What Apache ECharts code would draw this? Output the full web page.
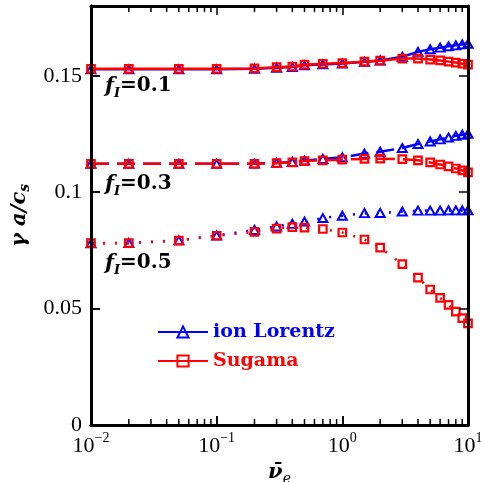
<!DOCTYPE html>
<html>
<head>
<meta charset="utf-8">
<script src="https://cdn.jsdelivr.net/npm/echarts@6/dist/echarts.min.js"></script>
<style>
html,body{margin:0;padding:0;background:#fff;}
#con{position:absolute;left:0;top:0;width:481px;height:482px;}
#frame{position:absolute;left:0;top:0;width:481px;height:482px;pointer-events:none;}
</style>
</head>
<body>
<div id="con"></div>
<div id="frame"></div>
<script>
// collision frequency (x axis)
var nu = [0.01, 0.02, 0.05, 0.1, 0.2, 0.3, 0.4, 0.5, 0.7, 1, 1.5, 2, 3, 4, 5, 6, 7, 8, 9, 10];

// growth rate, ion Lorentz model
var lorentz01 = [0.1528, 0.1528, 0.1528, 0.1528, 0.1530, 0.1535, 0.1538, 0.1545, 0.1549, 0.1553, 0.1560, 0.1566, 0.1582, 0.1603, 0.1614, 0.1621, 0.1627, 0.1631, 0.1635, 0.1638];
var lorentz03 = [0.1122, 0.1122, 0.1122, 0.1122, 0.1123, 0.1126, 0.1130, 0.1136, 0.1143, 0.1150, 0.1166, 0.1174, 0.1190, 0.1207, 0.1218, 0.1227, 0.1235, 0.1242, 0.1247, 0.1251];
var lorentz05 = [0.0781, 0.0782, 0.0793, 0.0814, 0.0838, 0.0853, 0.0864, 0.0874, 0.0889, 0.0899, 0.0910, 0.0911, 0.0917, 0.0921, 0.0921, 0.0921, 0.0922, 0.0922, 0.0922, 0.0922];

// growth rate, Sugama model
var sugama01 = [0.1530, 0.1530, 0.1530, 0.1530, 0.1532, 0.1537, 0.1540, 0.1548, 0.1552, 0.1555, 0.1561, 0.1565, 0.1574, 0.1574, 0.1570, 0.1566, 0.1561, 0.1557, 0.1552, 0.1548];
var sugama03 = [0.1122, 0.1122, 0.1122, 0.1122, 0.1122, 0.1125, 0.1128, 0.1134, 0.1137, 0.1140, 0.1143, 0.1144, 0.1142, 0.1137, 0.1128, 0.1119, 0.1111, 0.1102, 0.1094, 0.1085];
var sugama05 = [0.0781, 0.0781, 0.0792, 0.0813, 0.0830, 0.0844, 0.0850, 0.0848, 0.0842, 0.0827, 0.0797, 0.0762, 0.0691, 0.0633, 0.0582, 0.0546, 0.0516, 0.0487, 0.0459, 0.0437];

// log minor ticks (2..9 per decade)
var minorX = [0.02, 0.03, 0.04, 0.05, 0.06, 0.07, 0.08, 0.09,
              0.2, 0.3, 0.4, 0.5, 0.6, 0.7, 0.8, 0.9,
              2, 3, 4, 5, 6, 7, 8, 9];

var fLabels = ['0.1', '0.3', '0.5'];

function pairs(ys) {
	return nu.map(function (x, i) { return [x, ys[i]]; });
}

var blue = '#0000ff';
var red = '#ff0000';
var serif = '"DejaVu Serif", serif';
var roman = '"Liberation Serif", serif';
var yMax = 0.18;
var grid = { left: 91, right: 13, top: 6, bottom: 57, outerBoundsMode: 'none' };

function lorentz(ys, type) {
	return {
		name: 'ion Lorentz',
		type: 'line',
		data: pairs(ys),
		symbol: 'triangle',
		symbolSize: [9, 8],
		color: blue,
		lineStyle: { color: blue, width: 2.5, type: type },
		itemStyle: { color: 'rgba(0,0,0,0)', borderColor: blue, borderWidth: 2 },
		z: 3
	};
}
function sugama(ys, type) {
	return {
		name: 'Sugama',
		type: 'line',
		data: pairs(ys),
		symbol: 'rect',
		symbolSize: 7.5,
		color: red,
		lineStyle: { color: red, width: 2.5, type: type },
		itemStyle: { color: 'rgba(0,0,0,0)', borderColor: red, borderWidth: 2.2 },
		z: 4
	};
}
// minor tick marks along bottom (atY = 0) or top (atY = yMax)
function minorTicks(atY, dir) {
	return {
		type: 'custom',
		z: 10,
		data: minorX.map(function (x) { return [x, atY]; }),
		renderItem: function (params, api) {
			var p = api.coord([api.value(0), api.value(1)]);
			return {
				type: 'line',
				shape: { x1: p[0], y1: p[1], x2: p[0], y2: p[1] + dir * 6 },
				style: { stroke: 'black', lineWidth: 1.5 }
			};
		}
	};
}

function ax() { return { show: true, onZero: false, lineStyle: { color: 'black', width: 3 } }; }
function tk() { return { show: true, inside: true, length: 9, lineStyle: { color: 'black', width: 1.5 } }; }
function logAxis(pos) {
	return { type: 'log', min: 0.01, max: 10, position: pos, axisLine: ax(), axisTick: tk(), axisLabel: { show: false }, splitLine: { show: false } };
}
function valAxis(pos) {
	return { type: 'value', min: 0, max: yMax, interval: 0.05, position: pos, axisLine: ax(), axisTick: tk(), axisLabel: { show: false }, splitLine: { show: false } };
}

// main chart: data, labels, legend
var myChart = echarts.init(document.getElementById('con'));

var option = {
	animation: false,
	grid: grid,
	legend: {
		left: 152,
		top: 317,
		orient: 'vertical',
		itemWidth: 50,
		itemHeight: 14,
		itemGap: 9,
		data: [
			{ name: 'ion Lorentz', textStyle: { color: blue } },
			{ name: 'Sugama', textStyle: { color: red } }
		],
		textStyle: { fontFamily: serif, fontWeight: 'bold', fontSize: 19, lineHeight: 20 }
	},
	xAxis: [{
		type: 'log',
		min: 0.01,
		max: 10,
		position: 'bottom',
		name: '{a|ν̄}{b|e}',
		nameLocation: 'middle',
		nameGap: 24,
		nameTextStyle: {
			rich: {
				a: { fontFamily: serif, fontWeight: 'bold', fontStyle: 'italic', fontSize: 21, lineHeight: 24, verticalAlign: 'top', color: 'black' },
				b: { fontFamily: serif, fontStyle: 'italic', fontSize: 14, lineHeight: 14, verticalAlign: 'bottom', color: 'black' }
			}
		},
		axisLine: ax(),
		axisTick: tk(),
		axisLabel: {
			margin: 6,
			formatter: function (v) {
				var e = Math.round(Math.log(v) / Math.LN10);
				return '{n|10}{s|' + (e < 0 ? '\u2212' + (-e) : e) + '}';
			},
			rich: {
				n: { fontFamily: roman, fontSize: 22, color: 'black', lineHeight: 26, verticalAlign: 'bottom' },
				s: { fontFamily: roman, fontSize: 14, color: 'black', lineHeight: 14, verticalAlign: 'top' }
			}
		},
		splitLine: { show: false }
	}],
	yAxis: [{
		type: 'value',
		min: 0,
		max: yMax,
		interval: 0.05,
		position: 'left',
		name: '{g|γ a/c}{s|s}',
		nameLocation: 'middle',
		nameGap: 43,
		nameRotate: 90,
		nameTextStyle: {
			rich: {
				g: { fontFamily: serif, fontWeight: 'bold', fontStyle: 'italic', fontSize: 21, lineHeight: 24, verticalAlign: 'top', color: 'black' },
				s: { fontFamily: serif, fontWeight: 'bold', fontStyle: 'italic', fontSize: 14, lineHeight: 14, verticalAlign: 'bottom', color: 'black' }
			}
		},
		axisLine: ax(),
		axisTick: tk(),
		axisLabel: {
			margin: 9,
			showMaxLabel: false,
			fontFamily: roman,
			fontSize: 22,
			color: 'black'
		},
		splitLine: { show: false }
	}],
	graphic: fLabels.map(function (f, i) {
		return {
			type: 'text',
			left: 105,
			top: [76, 174, 253][i],
			z: 100,
			style: {
				text: '{f|f}{i|I}{t|=' + f + '}',
				rich: {
					f: { fontFamily: serif, fontWeight: 'bold', fontStyle: 'italic', fontSize: 21, lineHeight: 24, verticalAlign: 'top' },
					i: { fontFamily: serif, fontWeight: 'bold', fontStyle: 'italic', fontSize: 13, lineHeight: 13, verticalAlign: 'bottom' },
					t: { fontFamily: serif, fontWeight: 'bold', fontSize: 20, lineHeight: 24, verticalAlign: 'top' }
				}
			}
		};
	}),
	series: [
		lorentz(lorentz01, 'solid'),
		lorentz(lorentz03, [18, 8]),
		lorentz(lorentz05, [2, 10]),
		sugama(sugama01, 'solid'),
		sugama(sugama03, [18, 8]),
		sugama(sugama05, [2, 10])
	]
};
myChart.setOption(option);

// frame chart on top: box, inward major ticks, log minor ticks
var frameChart = echarts.init(document.getElementById('frame'));
frameChart.setOption({
	animation: false,
	grid: grid,
	xAxis: [logAxis('bottom'), logAxis('top')],
	yAxis: [valAxis('left'), valAxis('right')],
	series: [minorTicks(0, -1), minorTicks(yMax, 1)]
});

window.onresize = function () {
	myChart.resize();
	frameChart.resize();
};
</script>
</body>
</html>
